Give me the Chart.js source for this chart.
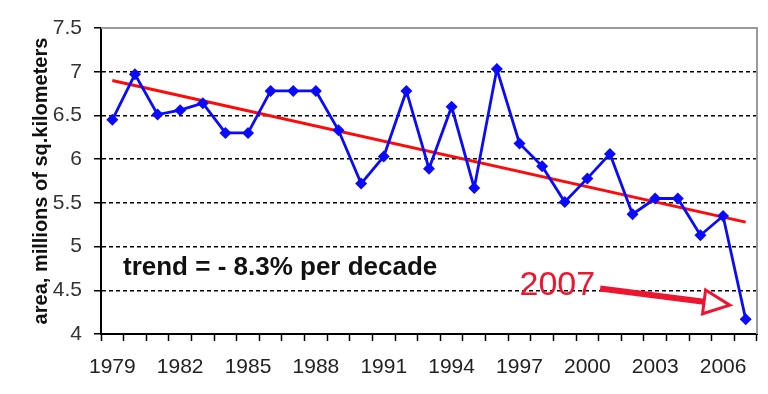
<!DOCTYPE html>
<html><head><meta charset="utf-8">
<script src="https://cdn.jsdelivr.net/npm/chart.js@4.4.1/dist/chart.umd.min.js"></script>
<style>html,body{margin:0;padding:0;background:#fff}#wrap{width:768px;height:394px;position:relative}</style>
</head><body><div id="wrap"><canvas id="c"></canvas></div>
<script>
const years = ['1979','1980','1981','1982','1983','1984','1985','1986','1987','1988','1989','1990','1991','1992','1993','1994','1995','1996','1997','1998','1999','2000','2001','2002','2003','2004','2005','2006','2007'];
const extent = [6.45,6.97,6.51,6.56,6.64,6.30,6.30,6.78,6.78,6.78,6.33,5.72,6.03,6.78,5.89,6.60,5.67,7.03,6.18,5.92,5.51,5.78,6.06,5.37,5.55,5.55,5.13,5.35,4.17];
const trend = [6.90,null,null,null,null,null,null,null,null,null,null,null,null,null,null,null,null,null,null,null,null,null,null,null,null,null,null,null,5.28];
const xTickLabels = ['1979','1982','1985','1988','1991','1994','1997','2000','2003','2006'];
const yTickLabels = ['4','4.5','5','5.5','6','6.5','7','7.5'];
const trendText = 'trend = - 8.3% per decade';
const yearNote = '2007';

const FONT = "'Liberation Sans', Arial, sans-serif";

const decor = {
  id: 'decor',
  beforeDatasetsDraw(chart) {
    const {ctx, chartArea: a} = chart;
    ctx.save();
    ctx.strokeStyle = '#9a9a9a';
    ctx.lineWidth = 2;
    ctx.beginPath();
    ctx.moveTo(a.left, a.top);
    ctx.lineTo(a.right, a.top);
    ctx.lineTo(a.right, a.bottom);
    ctx.stroke();
    ctx.restore();
  },
  afterDatasetsDraw(chart) {
    const {ctx, chartArea: a, scales: {x, y}} = chart;
    ctx.save();
    ctx.fillStyle = '#111';
    ctx.font = 'bold 26px ' + FONT;
    ctx.textBaseline = 'alphabetic';
    ctx.textAlign = 'left';
    ctx.fillText(trendText, a.left + 22, y.getPixelForValue(4.675));
    const red = '#ee1530';
    ctx.fillStyle = red;
    ctx.font = '34px ' + FONT;
    const tx = x.getPixelForValue(18);
    const ty = y.getPixelForValue(4.445);
    ctx.fillText(yearNote, tx, ty);
    const tw = ctx.measureText(yearNote).width;
    const sx = tx + tw + 5, sy = y.getPixelForValue(4.52);
    const ex = x.getPixelForValue(27.3), ey = y.getPixelForValue(4.33);
    const ang = Math.atan2(ey - sy, ex - sx);
    const headLen = 26, headHalf = 12;
    const bx = ex - headLen * Math.cos(ang), by = ey - headLen * Math.sin(ang);
    ctx.strokeStyle = red;
    ctx.lineWidth = 6;
    ctx.lineCap = 'butt';
    ctx.beginPath();
    ctx.moveTo(sx, sy);
    ctx.lineTo(bx, by);
    ctx.stroke();
    const px = -Math.sin(ang), py = Math.cos(ang);
    ctx.beginPath();
    ctx.moveTo(ex, ey);
    ctx.lineTo(bx + px * headHalf, by + py * headHalf);
    ctx.lineTo(bx - px * headHalf, by - py * headHalf);
    ctx.closePath();
    ctx.fillStyle = '#fff';
    ctx.fill();
    ctx.lineWidth = 3;
    ctx.lineJoin = 'miter';
    ctx.stroke();
    ctx.restore();
  }
};

new Chart(document.getElementById('c'), {
  type: 'line',
  data: {
    labels: years,
    datasets: [
      {
        label: 'trend',
        data: trend,
        spanGaps: true,
        borderColor: '#ff0a0a',
        borderWidth: 3,
        pointRadius: 0,
        tension: 0,
        order: 2
      },
      {
        label: 'extent',
        data: extent,
        borderColor: '#0a0aff',
        backgroundColor: '#0a0aff',
        borderWidth: 2.8,
        pointStyle: 'rectRot',
        pointRadius: 6,
        pointBorderWidth: 0,
        tension: 0,
        order: 1
      }
    ]
  },
  options: {
    responsive: true,
    maintainAspectRatio: false,
    animation: false,
    layout: {padding: {left: 0, top: 28, right: 11, bottom: 0}},
    plugins: {legend: {display: false}, tooltip: {enabled: false}},
    scales: {
      x: {
        type: 'category',
        offset: true,
        grid: {offset: true, drawOnChartArea: false, drawTicks: true, tickLength: 7, tickColor: '#000', tickWidth: 1.5},
        border: {display: true, color: '#000', width: 2},
        ticks: {
          autoSkip: false, maxRotation: 0, minRotation: 0, padding: 14,
          color: '#222', font: {family: FONT, size: 21},
          callback: (v, i) => xTickLabels.includes(years[i]) ? years[i] : ''
        },
        afterFit: s => { s.height = 60; }
      },
      y: {
        min: 4, max: 7.5,
        ticks: {
          stepSize: 0.5, padding: 12, color: '#333', font: {family: FONT, size: 21},
          callback: v => yTickLabels.includes(String(v)) ? String(v) : ''
        },
        grid: {
          color: c => (c.tick && (c.tick.value === 7.5 || c.tick.value === 4)) ? 'rgba(0,0,0,0)' : '#000',
          lineWidth: 1.5, drawTicks: true, tickLength: 7, tickColor: '#000', tickWidth: 1.5
        },
        border: {display: true, color: '#000', width: 2, dash: [4, 3]},
        title: {
          display: true, text: 'area, millions of sq.kilometers',
          color: '#111', font: {family: FONT, size: 20, weight: 'bold'},
          padding: {top: 29, bottom: 0}
        },
        afterFit: s => { s.width = 101; }
      }
    }
  },
  plugins: [decor]
});
</script>
</body></html>
